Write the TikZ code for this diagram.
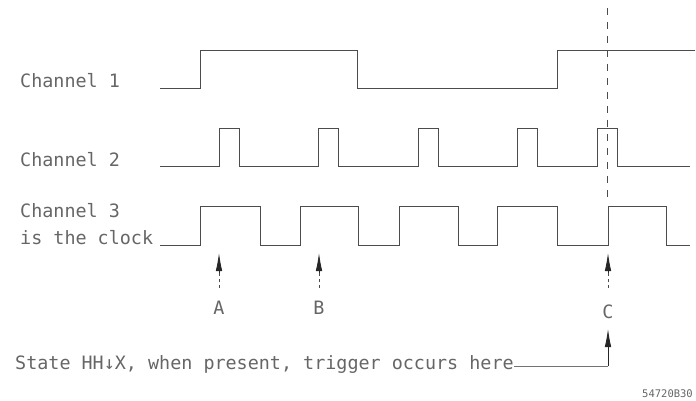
\documentclass[tikz,border=0pt]{standalone}
\usepackage{fontspec}
\setmonofont{DejaVu Sans Mono}
\usepackage{tikz}
\usetikzlibrary{positioning, calc, arrows.meta}

\begin{document}
\begin{tikzpicture}[
        x=1pt, y=-1pt,
        sig/.style={draw=black!70, line width=0.6pt},
        lbl/.style={font=\ttfamily\fontsize{18.4}{20}\selectfont, text=black!60, inner sep=0pt},
        marker/.style={draw=black!85, fill=black!85, line width=0.8pt, -{Latex[length=18pt, width=6.5pt]}},
        stem/.style={draw=black!70, line width=0.6pt, dash pattern=on 3pt off 3pt},
        cursor/.style={draw=black!70, line width=0.6pt, dash pattern=on 7pt off 7pt}
    ]
        \useasboundingbox (0,0) rectangle (696,401);

        % --- LABELS ---
        \node[lbl, anchor=base west] (ch1) at (20,88) {Channel 1};
        \node[lbl, anchor=base west] (ch2) at (20,166) {Channel 2};
        \node[lbl, anchor=base west] (ch3) at (20,217) {Channel 3};
        \node[lbl, anchor=base west] (clk) at (20,244) {is the clock};

        % --- WAVEFORMS ---
        \draw[sig] (160,88) -- (200,88) -- (200,50) -- (357,50) -- (357,88)
            -- (557,88) -- (557,50) -- (695,50);
        \draw[sig] (160,166)
            \foreach \r/\f in {219/239, 318/338, 418/438, 517/537, 597/617} {
                -- (\r,166) -- (\r,128) -- (\f,128) -- (\f,166)
            } -- (690,166);
        \draw[sig] (160,245)
            \foreach \r/\f in {200/260, 300/358, 399/458, 497/557, 608/666} {
                -- (\r,245) -- (\r,206) -- (\f,206) -- (\f,245)
            } -- (690,245);

        % --- TRIGGER CURSOR ---
        \coordinate (ctop) at (607,8);
        \coordinate (cend) at (607,200);
        \draw[cursor] (ctop) -- (cend);

        % --- STATE MARKERS ---
        \node[lbl] (a) at (219,308) {A};
        \node[lbl] (b) at (319,308) {B};
        \node[lbl] (c) at (608,312) {C};
        \foreach \n/\x in {a/219, b/319, c/608} {
            \coordinate (\n tip) at (\x,253);
            \coordinate (\n mid) at (\x,273);
            \coordinate (\n tail) at (\x,288);
            \draw[stem] (\n tail) -- (\n mid);
            \draw[marker] (\n mid) -- (\n tip);
        }

        % --- TRIGGER NOTE ---
        \node[lbl, anchor=base west] (state) at (15,369)
            {State HH↓X, when present, trigger occurs here};
        \coordinate (cbot) at (608,366);
        \coordinate (ctip) at (608,329);
        \draw[sig, draw=black!55] (state.east |- cbot) -- (cbot);
        \draw[marker] (cbot) -- (ctip);

        \node[font=\ttfamily\fontsize{10.5}{12}\selectfont, text=black!60, anchor=base east, inner sep=0pt] (fig) at (693,397) {54720B30};
    \end{tikzpicture}
\end{document}
